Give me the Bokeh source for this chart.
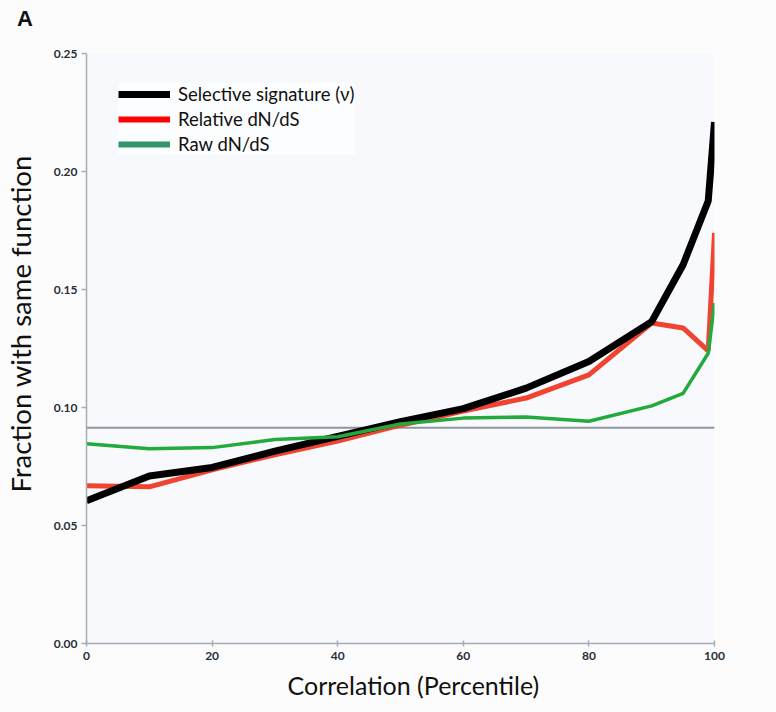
from bokeh.plotting import figure
from bokeh.layouts import column
from bokeh.models import Legend, LegendItem, Range1d, FixedTicker, PrintfTickFormatter, Title, Div
from bokeh.embed import file_html
from bokeh.resources import INLINE

# Data
percentile = [0, 10, 20, 30, 40, 50, 60, 70, 80, 90, 95, 99, 100]
selective = [0.0605, 0.0710, 0.0746, 0.0815, 0.0878, 0.0940, 0.0995, 0.1082, 0.1195, 0.1364, 0.1605, 0.1875, 0.2210]
relative = [0.0668, 0.0664, 0.0736, 0.0800, 0.0858, 0.0925, 0.0985, 0.1040, 0.1138, 0.1358, 0.1337, 0.1240, 0.1740]
raw = [0.0846, 0.0825, 0.0830, 0.0864, 0.0876, 0.0930, 0.0955, 0.0960, 0.0942, 0.1007, 0.1060, 0.1230, 0.1443]
baseline = 0.0914
x_ticks = [0, 20, 40, 60, 80, 100]
y_ticks = [0.0, 0.05, 0.10, 0.15, 0.20, 0.25]

FONT = "Lato"
AXIS_COL = "#a3adb8"
BG = "#fcfcfd"

panel_letter = Div(
    text='<div style="font-family:\'Liberation Sans\';font-size:22px;font-weight:bold;'
         'line-height:22px;padding:8px 0 0 17px;color:#111111;">A</div>',
    width=776, height=34, margin=0, styles={"background-color": BG})

p = figure(width=776, height=678, output_backend="svg", toolbar_location=None,
           x_range=Range1d(0, 100), y_range=Range1d(0, 0.25),
           min_border_left=86, min_border_right=62, min_border_top=19, min_border_bottom=69,
           margin=0)

p.background_fill_color = "#f8f9fc"
p.border_fill_color = BG
p.outline_line_color = None
p.xgrid.grid_line_color = None
p.ygrid.grid_line_color = None

for ax in (p.xaxis[0], p.yaxis[0]):
    ax.axis_line_color = AXIS_COL
    ax.axis_line_width = 1.5
    ax.major_tick_line_color = AXIS_COL
    ax.major_tick_line_width = 1.5
    ax.minor_tick_line_color = None
    ax.major_label_text_font = FONT
    ax.major_label_text_font_style = "bold"
    ax.major_label_text_font_size = "12px"
    ax.major_label_text_color = "#2a2f38"

p.xaxis.ticker = FixedTicker(ticks=x_ticks)
p.yaxis.ticker = FixedTicker(ticks=y_ticks)
p.yaxis.formatter = PrintfTickFormatter(format="%.2f")
p.xaxis.major_tick_in = 3
p.xaxis.major_tick_out = 3
p.yaxis.major_tick_in = 0
p.yaxis.major_tick_out = 5
p.yaxis.major_label_standoff = 4
p.xaxis.major_label_standoff = 5

# y axis title (leading no-break spaces shift it up as in the reference)
p.yaxis.axis_label = "\u00a0" * 7 + "Fraction with same function"
p.yaxis.axis_label_text_font = FONT
p.yaxis.axis_label_text_font_size = "27.5px"
p.yaxis.axis_label_text_font_style = "normal"
p.yaxis.axis_label_text_color = "#111111"
p.yaxis.axis_label_standoff = 14

# x axis title as a side title so that its position along the axis can be matched
xtitle = Title(text="Correlation (Percentile)", align="left", offset=201,
               text_font=FONT, text_font_size="25px", text_font_style="normal",
               text_color="#111111", standoff=11)
p.add_layout(xtitle, "below")

# baseline (grey horizontal line)
p.line(x=[percentile[0], percentile[-1]], y=[baseline, baseline], line_color="#8f969c", line_width=2)

r_rel = p.line(percentile, relative, line_color="#ef3a26", line_width=5, line_alpha=0.95)
r_sel = p.line(percentile, selective, line_color="#000000", line_width=7)
r_raw = p.line(percentile, raw, line_color="#22aa3c", line_width=3.5)

# legend proxies (legend colours slightly differ from the plotted lines)
l_sel = p.line([0, 1], [-1, -1], line_color="#000000", line_width=7)
l_rel = p.line([0, 1], [-1, -1], line_color="#ff0000", line_width=6)
l_raw = p.line([0, 1], [-1, -1], line_color="#35956a", line_width=6)

legend = Legend(items=[
    LegendItem(label="Selective signature (\u03bd)", renderers=[l_sel]),
    LegendItem(label="Relative dN/dS", renderers=[l_rel]),
    LegendItem(label="Raw dN/dS", renderers=[l_raw]),
], location=(32, 488))
legend.label_text_font = FONT
legend.label_text_font_size = "18.5px"
legend.label_text_color = "#111111"
legend.glyph_width = 52
legend.glyph_height = 22
legend.label_height = 22
legend.spacing = 3
legend.padding = 8
legend.margin = 0
legend.label_standoff = 8
legend.border_line_color = None
legend.background_fill_color = "#ffffff"
legend.background_fill_alpha = 0.6
p.add_layout(legend, "center")

layout = column(panel_letter, p, spacing=0, margin=0)
open("out.html", "w").write(file_html(layout, INLINE))
